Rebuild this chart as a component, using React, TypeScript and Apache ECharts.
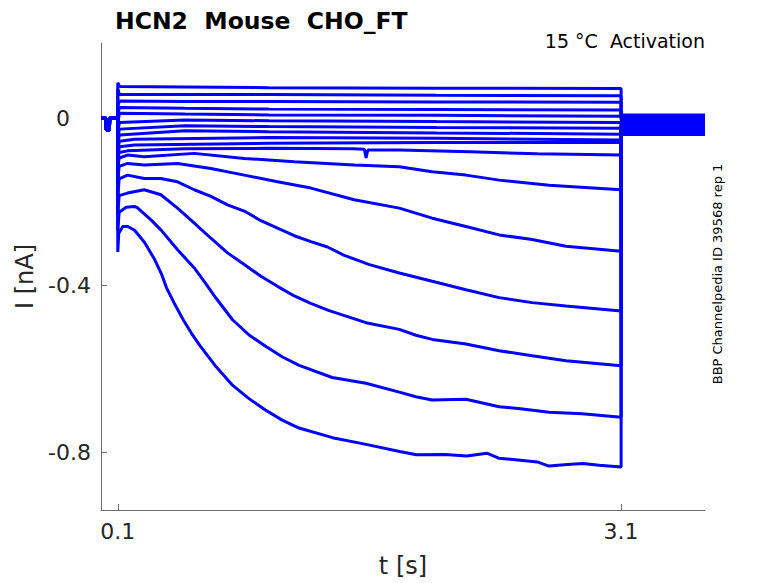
import React, { useEffect, useRef } from "react";
import * as echarts from "echarts";

// ---- Data (time in s, current in nA) ----
const xTicks = [0.1, 3.1];
const yTicks = [-0.8, -0.4, 0];

const prePulse: [number, number][] = [
  [0, 0], [0.03, 0], [0.032, -0.028], [0.05, -0.028], [0.052, 0], [0.1, 0],
];

const tailStart = 3.1;
const tailEnd = 3.6;
const tailLevels = [
  0.008, 0.005, 0.002, -0.001, -0.004, -0.007, -0.01, -0.013, -0.016, -0.019,
  -0.022, -0.025, -0.028, -0.031, -0.034, -0.037, -0.039,
];

const trace01: [number, number][] = [[0.1, 0.085], [0.11, 0.076], [0.5, 0.075], [1.0, 0.073], [2.0, 0.072], [3.1, 0.071]];
const trace02: [number, number][] = [[0.1, 0.07], [0.11, 0.057], [0.5, 0.057], [1.0, 0.057], [2.0, 0.055], [3.1, 0.054]];
const trace03: [number, number][] = [[0.1, 0.03], [0.11, 0.041], [0.5, 0.040], [1.0, 0.040], [2.0, 0.039], [3.1, 0.038]];
const trace04: [number, number][] = [[0.1, 0.01], [0.11, 0.026], [0.5, 0.024], [1.0, 0.022], [2.0, 0.021], [3.1, 0.020]];
const trace05: [number, number][] = [[0.1, -0.01], [0.11, 0.012], [0.5, 0.010], [1.0, 0.008], [2.0, 0.007], [3.1, 0.005]];
const trace06: [number, number][] = [[0.1, -0.03], [0.11, -0.01], [0.5, -0.004], [1.0, -0.006], [2.0, -0.008], [3.1, -0.010]];
const trace07: [number, number][] = [[0.1, -0.045], [0.11, -0.026], [0.5, -0.018], [1.0, -0.020], [2.0, -0.022], [3.1, -0.024]];
const trace08: [number, number][] = [[0.1, -0.06], [0.11, -0.04], [0.5, -0.030], [1.0, -0.032], [2.0, -0.035], [3.1, -0.038]];
const trace09: [number, number][] = [[0.1, -0.075], [0.11, -0.055], [0.2, -0.05], [1.0, -0.046], [2.0, -0.048], [3.1, -0.052]];
const trace10: [number, number][] = [[0.1, -0.09], [0.11, -0.068], [0.2, -0.064], [1.0, -0.060], [2.0, -0.058], [3.1, -0.058]];
const trace11: [number, number][] = [
  [0.1, -0.1], [0.108, -0.082], [0.158, -0.078], [0.5, -0.073], [1.0, -0.072], [1.5, -0.073],
  [1.57, -0.074], [1.58, -0.095], [1.59, -0.076], [1.778, -0.076], [2.2, -0.08], [2.6, -0.085], [3.1, -0.088],
];
const trace12: [number, number][] = [
  [0.1, -0.12], [0.108, -0.095], [0.158, -0.088], [0.258, -0.092], [0.556, -0.084], [0.854, -0.096],
  [1.152, -0.104], [1.509, -0.112], [1.778, -0.116], [1.974, -0.128], [2.175, -0.136], [2.373, -0.148],
  [2.671, -0.16], [3.1, -0.171],
];
const trace13: [number, number][] = [
  [0.1, -0.15], [0.108, -0.115], [0.158, -0.108], [0.258, -0.112], [0.456, -0.108], [0.655, -0.12],
  [0.854, -0.136], [1.052, -0.152], [1.251, -0.167], [1.509, -0.195], [1.778, -0.215], [1.974, -0.239],
  [2.175, -0.259], [2.373, -0.279], [2.57, -0.29], [2.771, -0.306], [3.1, -0.318],
];
const trace14: [number, number][] = [
  [0.1, -0.19], [0.108, -0.145], [0.158, -0.136], [0.258, -0.144], [0.357, -0.144], [0.456, -0.152],
  [0.556, -0.171], [0.655, -0.187], [0.754, -0.207], [0.854, -0.222], [0.953, -0.245], [1.052, -0.263],
  [1.152, -0.281], [1.251, -0.295], [1.35, -0.308], [1.45, -0.328], [1.6, -0.35], [1.778, -0.37],
  [1.974, -0.39], [2.175, -0.41], [2.373, -0.429], [2.57, -0.441], [2.771, -0.449], [3.1, -0.461],
];
const trace15: [number, number][] = [
  [0.1, -0.23], [0.108, -0.185], [0.158, -0.179], [0.258, -0.171], [0.357, -0.183], [0.456, -0.215],
  [0.556, -0.251], [0.655, -0.287], [0.754, -0.322], [0.854, -0.35], [0.953, -0.378], [1.052, -0.402],
  [1.152, -0.425], [1.25, -0.443], [1.36, -0.46], [1.579, -0.489], [1.778, -0.505], [1.877, -0.519],
  [1.974, -0.529], [2.175, -0.54], [2.373, -0.556], [2.57, -0.568], [2.771, -0.58], [3.1, -0.592],
];
const trace16: [number, number][] = [
  [0.1, -0.27], [0.108, -0.225], [0.15, -0.213], [0.198, -0.211], [0.216, -0.214], [0.298, -0.243],
  [0.357, -0.267], [0.455, -0.314], [0.556, -0.358], [0.62, -0.393], [0.685, -0.43], [0.784, -0.482],
  [0.884, -0.519], [0.983, -0.546], [1.082, -0.571], [1.181, -0.591], [1.378, -0.62], [1.579, -0.634],
  [1.778, -0.655], [1.877, -0.666], [1.974, -0.674], [2.175, -0.672], [2.373, -0.69], [2.5, -0.695],
  [2.671, -0.703], [2.868, -0.707], [3.1, -0.715],
];
const trace17: [number, number][] = [
  [0.1, -0.32], [0.106, -0.275], [0.13, -0.259], [0.16, -0.259], [0.2, -0.268], [0.26, -0.297],
  [0.32, -0.338], [0.36, -0.372], [0.39, -0.405], [0.44, -0.445], [0.49, -0.482], [0.54, -0.515],
  [0.59, -0.544], [0.685, -0.594], [0.78, -0.637], [0.88, -0.67], [0.98, -0.698], [1.08, -0.722],
  [1.18, -0.741], [1.38, -0.764], [1.58, -0.78], [1.78, -0.797], [1.88, -0.805], [2.05, -0.804],
  [2.18, -0.808], [2.3, -0.801], [2.37, -0.813], [2.5, -0.818], [2.6, -0.822], [2.67, -0.832],
  [2.78, -0.828], [2.87, -0.826], [2.97, -0.83], [3.1, -0.834],
];

const stepTraces = [
  trace01, trace02, trace03, trace04, trace05, trace06, trace07, trace08, trace09,
  trace10, trace11, trace12, trace13, trace14, trace15, trace16, trace17,
];

const FONT = "DejaVu Sans";
const TEXT = "#262626";
const AXIS = "#6e6e6e";
const LINE = "#0000ff";

export default function App() {
  const ref = useRef<HTMLDivElement>(null);

  useEffect(() => {
    if (!ref.current) return;
    const chart = echarts.init(ref.current, undefined, { renderer: "svg" });

    const series = stepTraces.map((step, i) => {
      const last = step[step.length - 1];
      const data: [number, number][] = [
        ...prePulse,
        ...step,
        [tailStart, last[1]],
        [tailStart, tailLevels[i]],
        [tailEnd, tailLevels[i]],
      ];
      return {
        type: "line",
        name: "trace" + (i + 1),
        data,
        showSymbol: false,
        symbol: "none",
        silent: true,
        lineStyle: { color: LINE, width: 3 },
        itemStyle: { color: LINE },
      };
    });

    chart.setOption({
      animation: false,
      backgroundColor: "#ffffff",
      title: {
        text: "HCN2  Mouse  CHO_FT",
        left: 110,
        top: 4,
        textStyle: { fontFamily: FONT, fontWeight: "bold", fontSize: 23.5, color: "#000" },
      },
      grid: { left: 101, right: 73, top: 43, bottom: 71, containLabel: false },
      xAxis: {
        type: "value",
        min: 0,
        max: 3.6,
        name: "t [s]",
        nameLocation: "middle",
        nameGap: 44,
        nameTextStyle: { fontFamily: FONT, fontSize: 24, color: TEXT },
        axisLine: { show: true, onZero: false, lineStyle: { color: AXIS, width: 1 } },
        axisTick: { show: true, inside: true, length: 6, customValues: xTicks, lineStyle: { color: AXIS } },
        axisLabel: {
          customValues: xTicks,
          margin: 10,
          fontFamily: FONT,
          fontSize: 22,
          color: TEXT,
          formatter: (v: number) => v.toFixed(1),
        },
        splitLine: { show: false },
      },
      yAxis: {
        type: "value",
        min: -0.937,
        max: 0.18,
        name: "I [nA]",
        nameLocation: "middle",
        nameGap: 62,
        nameRotate: 90,
        nameTextStyle: { fontFamily: FONT, fontSize: 24, color: TEXT },
        axisLine: { show: true, onZero: false, lineStyle: { color: AXIS, width: 1 } },
        axisTick: { show: true, inside: true, length: 6, customValues: yTicks, lineStyle: { color: AXIS } },
        axisLabel: {
          customValues: yTicks,
          margin: 10,
          fontFamily: FONT,
          fontSize: 22,
          color: TEXT,
          formatter: (v: number) => (Math.abs(v) < 1e-9 ? "{z|0}" : v.toFixed(1)),
          rich: {
            z: { fontFamily: FONT, fontSize: 22, color: TEXT, padding: [0, 21, 0, 0] },
          },
        },
        splitLine: { show: false },
      },
      graphic: [
        {
          type: "text",
          right: 73,
          top: 31,
          style: { text: "15 °C  Activation", fontFamily: FONT, fontSize: 19, fill: "#000" },
        },
        {
          type: "text",
          x: 717,
          y: 274,
          rotation: Math.PI / 2,
          style: {
            text: "BBP Channelpedia ID 39568 rep 1",
            fontFamily: FONT,
            fontSize: 13,
            fill: "#000",
            align: "center",
            verticalAlign: "middle",
          },
        },
      ],
      series,
    });

    return () => chart.dispose();
  }, []);

  return (
    <div
      ref={ref}
      style={{ position: "fixed", left: 0, top: 0, width: 778, height: 583, background: "#fff" }}
    />
  );
}
